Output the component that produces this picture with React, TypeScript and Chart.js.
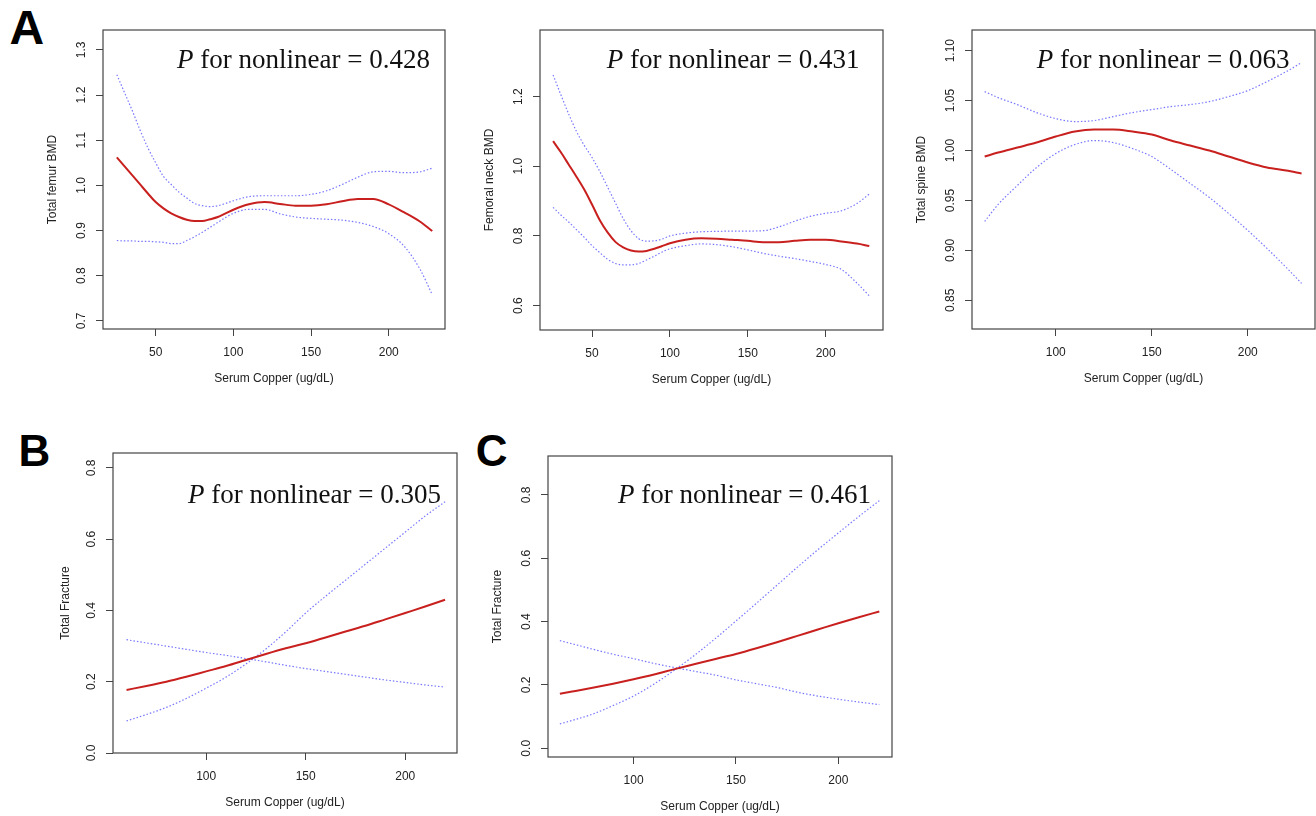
import React, { useEffect, useRef } from 'react';
import { Chart, registerables } from 'chart.js';

Chart.register(...registerables);

// ---------- Data ----------
const femurX = [25, 30, 35, 40, 45, 50, 55, 60, 65, 70, 75, 80, 85, 90, 95, 100, 110, 120, 130, 140, 150, 160, 170, 180, 190, 200, 210, 220, 228];
const femurFit = [1.062, 1.042, 1.022, 1.002, 0.982, 0.963, 0.949, 0.938, 0.930, 0.924, 0.921, 0.921, 0.925, 0.930, 0.938, 0.946, 0.958, 0.963, 0.959, 0.955, 0.955, 0.958, 0.965, 0.970, 0.970, 0.958, 0.940, 0.920, 0.899];
const femurUpper = [1.245, 1.205, 1.165, 1.122, 1.083, 1.050, 1.020, 1.002, 0.985, 0.972, 0.960, 0.955, 0.953, 0.955, 0.960, 0.966, 0.975, 0.977, 0.977, 0.977, 0.980, 0.988, 1.002, 1.018, 1.030, 1.031, 1.028, 1.030, 1.038];
const femurLower = [0.878, 0.877, 0.877, 0.876, 0.876, 0.875, 0.874, 0.871, 0.871, 0.878, 0.886, 0.896, 0.907, 0.918, 0.929, 0.938, 0.947, 0.947, 0.937, 0.930, 0.927, 0.925, 0.923, 0.918, 0.909, 0.893, 0.865, 0.815, 0.758];

const neckX = [25, 30, 35, 40, 45, 50, 55, 60, 65, 70, 75, 80, 85, 90, 95, 100, 110, 120, 130, 140, 150, 160, 170, 180, 190, 200, 210, 220, 228];
const neckFit = [1.072, 1.040, 1.005, 0.970, 0.933, 0.890, 0.845, 0.810, 0.783, 0.767, 0.758, 0.755, 0.757, 0.763, 0.771, 0.779, 0.789, 0.793, 0.792, 0.789, 0.786, 0.782, 0.782, 0.786, 0.789, 0.789, 0.784, 0.778, 0.771];
const neckUpper = [1.262, 1.205, 1.150, 1.100, 1.060, 1.025, 0.985, 0.940, 0.895, 0.850, 0.815, 0.792, 0.785, 0.786, 0.791, 0.800, 0.808, 0.812, 0.813, 0.814, 0.814, 0.815, 0.826, 0.842, 0.856, 0.865, 0.872, 0.893, 0.920];
const neckLower = [0.882, 0.860, 0.840, 0.818, 0.796, 0.772, 0.752, 0.733, 0.721, 0.717, 0.717, 0.721, 0.731, 0.742, 0.754, 0.763, 0.772, 0.777, 0.775, 0.769, 0.760, 0.750, 0.742, 0.735, 0.727, 0.718, 0.704, 0.665, 0.628];

const spineX = [63, 70, 80, 90, 100, 110, 120, 130, 140, 150, 160, 170, 180, 190, 200, 210, 220, 228];
const spineFit = [0.994, 0.998, 1.003, 1.008, 1.014, 1.019, 1.021, 1.021, 1.019, 1.016, 1.010, 1.005, 1.000, 0.994, 0.988, 0.983, 0.980, 0.977];
const spineUpper = [1.059, 1.053, 1.046, 1.038, 1.032, 1.029, 1.030, 1.034, 1.038, 1.041, 1.044, 1.046, 1.049, 1.054, 1.060, 1.069, 1.079, 1.088];
const spineLower = [0.929, 0.946, 0.965, 0.983, 0.997, 1.006, 1.010, 1.008, 1.002, 0.994, 0.981, 0.967, 0.953, 0.937, 0.920, 0.902, 0.883, 0.867];

const fracBX = [60, 70, 80, 90, 100, 110, 120, 130, 140, 150, 160, 170, 180, 190, 200, 210, 220];
const fracBFit = [0.177, 0.188, 0.200, 0.214, 0.229, 0.244, 0.261, 0.278, 0.294, 0.308, 0.324, 0.341, 0.357, 0.375, 0.393, 0.411, 0.430];
const fracBUpper = [0.090, 0.108, 0.128, 0.153, 0.182, 0.213, 0.250, 0.292, 0.340, 0.393, 0.440, 0.485, 0.530, 0.575, 0.620, 0.665, 0.705];
const fracBLower = [0.318, 0.309, 0.300, 0.291, 0.282, 0.274, 0.265, 0.256, 0.246, 0.237, 0.229, 0.221, 0.213, 0.205, 0.198, 0.191, 0.185];

const fracCX = [64, 70, 80, 90, 100, 110, 120, 130, 140, 150, 160, 170, 180, 190, 200, 210, 220];
const fracCFit = [0.172, 0.179, 0.191, 0.204, 0.218, 0.233, 0.250, 0.266, 0.282, 0.298, 0.316, 0.335, 0.355, 0.375, 0.395, 0.414, 0.432];
const fracCUpper = [0.077, 0.088, 0.108, 0.135, 0.165, 0.203, 0.247, 0.295, 0.347, 0.402, 0.458, 0.515, 0.572, 0.627, 0.680, 0.732, 0.782];
const fracCLower = [0.340, 0.330, 0.313, 0.297, 0.283, 0.268, 0.255, 0.243, 0.231, 0.216, 0.204, 0.192, 0.177, 0.165, 0.155, 0.146, 0.138];

const yTitles = ['Total femur BMD', 'Femoral neck BMD', 'Total spine BMD', 'Total Fracture', 'Total Fracture'];
const pValues = ['0.428', '0.431', '0.063', '0.305', '0.461'];
const xTitle = 'Serum Copper (ug/dL)';
const panelLetters = ['A', 'B', 'C'];

// ---------- Styling ----------
const FONT_FAMILY = '"Liberation Sans", Arial, Helvetica, sans-serif';
const SERIF = '"Liberation Serif", "Times New Roman", serif';
const RED = '#C8201E';
const BLUE = 'rgba(105,105,255,0.9)';
const AXIS = '#444';
const TEXT = '#222';

type Spec = {
  box: [number, number, number, number];
  xs: number[]; fit: number[]; upper: number[]; lower: number[];
  xMin: number; xMax: number;
  yMin: number; yMax: number; yStep: number; dec: number;
  yTitle: string; pValue: string;
  pdx: number; pdy: number; yTitleOff: number; padR: number;
};

const specs: Spec[] = [
  { box: [103, 30, 445, 329], xs: femurX, fit: femurFit, upper: femurUpper, lower: femurLower, xMin: 16.1, xMax: 236.2, yMin: 0.682, yMax: 1.344, yStep: 0.1, dec: 1, yTitle: yTitles[0], pValue: pValues[0], pdx: 74, pdy: 38.3, yTitleOff: 50, padR: 5 },
  { box: [540, 30, 883, 330], xs: neckX, fit: neckFit, upper: neckUpper, lower: neckLower, xMin: 16.6, xMax: 236.8, yMin: 0.530, yMax: 1.391, yStep: 0.2, dec: 1, yTitle: yTitles[1], pValue: pValues[1], pdx: 66.7, pdy: 38.3, yTitleOff: 50, padR: 5 },
  { box: [972, 30, 1315, 329], xs: spineX, fit: spineFit, upper: spineUpper, lower: spineLower, xMin: 56.4, xMax: 235, yMin: 0.8213, yMax: 1.1207, yStep: 0.05, dec: 2, yTitle: yTitles[2], pValue: pValues[2], pdx: 64.7, pdy: 38.3, yTitleOff: 50, padR: 1 },
  { box: [113, 453, 457, 753], xs: fracBX, fit: fracBFit, upper: fracBUpper, lower: fracBLower, xMin: 53.2, xMax: 226, yMin: 0, yMax: 0.842, yStep: 0.2, dec: 1, yTitle: yTitles[3], pValue: pValues[3], pdx: 75, pdy: 50.3, yTitleOff: 47, padR: 5 },
  { box: [548, 456, 892, 757], xs: fracCX, fit: fracCFit, upper: fracCUpper, lower: fracCLower, xMin: 58.2, xMax: 226.2, yMin: -0.0275, yMax: 0.923, yStep: 0.2, dec: 1, yTitle: yTitles[4], pValue: pValues[4], pdx: 70, pdy: 47.3, yTitleOff: 50, padR: 5 },
];

const Y_AXIS_W = 60;
const X_AXIS_H = 58;
const PAD_TOP = 15;

const framePlugin = {
  id: 'frame',
  afterDatasetsDraw(chart: any) {
    const { ctx, chartArea: a } = chart;
    ctx.save();
    ctx.strokeStyle = AXIS;
    ctx.lineWidth = 1.2;
    ctx.strokeRect(a.left, a.top, a.right - a.left, a.bottom - a.top);
    ctx.restore();
  },
};

const pTextPlugin = {
  id: 'ptext',
  afterDraw(chart: any, _args: any, opts: any) {
    const { ctx, chartArea: a } = chart;
    const x = a.left + opts.dx;
    const y = a.top + opts.dy;
    ctx.save();
    ctx.fillStyle = '#111';
    ctx.textBaseline = 'alphabetic';
    ctx.textAlign = 'left';
    ctx.font = `italic 27px ${SERIF}`;
    ctx.fillText('P', x, y);
    const w = ctx.measureText('P').width;
    ctx.font = `27px ${SERIF}`;
    ctx.fillText(' for nonlinear = ' + opts.value, x + w, y);
    ctx.restore();
  },
};

function Panel({ spec }: { spec: Spec }) {
  const ref = useRef<HTMLCanvasElement>(null);
  const [L, T, R, B] = spec.box;
  const left = L - Y_AXIS_W;
  const top = T - PAD_TOP;
  const width = R - L + Y_AXIS_W + spec.padR;
  const height = B - T + PAD_TOP + X_AXIS_H;

  useEffect(() => {
    const canvas = ref.current!;
    const ctx = canvas.getContext('2d')!;
    ctx.font = `12px ${FONT_FAMILY}`;
    let widest = 0;
    const first = Math.ceil(spec.yMin / spec.yStep - 1e-9);
    const last = Math.floor(spec.yMax / spec.yStep + 1e-9);
    for (let k = first; k <= last; k++) {
      widest = Math.max(widest, ctx.measureText((k * spec.yStep).toFixed(spec.dec)).width);
    }
    const yPad = 14 - widest / 2;
    const font = { family: FONT_FAMILY, size: 12 };

    const chart = new Chart(canvas, {
      type: 'line',
      data: {
        datasets: [
          { data: spec.xs.map((x, i) => ({ x, y: spec.fit[i] })), borderColor: RED, borderWidth: 2, pointRadius: 0, cubicInterpolationMode: 'monotone', fill: false },
          { data: spec.xs.map((x, i) => ({ x, y: spec.upper[i] })), borderColor: BLUE, borderWidth: 1.2, borderDash: [1.5, 2], pointRadius: 0, cubicInterpolationMode: 'monotone', fill: false },
          { data: spec.xs.map((x, i) => ({ x, y: spec.lower[i] })), borderColor: BLUE, borderWidth: 1.2, borderDash: [1.5, 2], pointRadius: 0, cubicInterpolationMode: 'monotone', fill: false },
        ],
      },
      options: {
        animation: false,
        responsive: false,
        events: [],
        layout: { padding: { left: 0, top: PAD_TOP, right: spec.padR, bottom: 0 } },
        plugins: {
          legend: { display: false },
          tooltip: { enabled: false },
          ptext: { dx: spec.pdx, dy: spec.pdy, value: spec.pValue },
        } as any,
        scales: {
          x: {
            type: 'linear',
            min: spec.xMin,
            max: spec.xMax,
            afterFit: (s: any) => { s.height = X_AXIS_H; },
            border: { display: false },
            grid: { display: true, drawOnChartArea: false, drawTicks: true, tickLength: 7, color: AXIS, lineWidth: 1 },
            ticks: { stepSize: 50, includeBounds: false, padding: 9, autoSkip: false, maxRotation: 0, minRotation: 0, font, color: TEXT, callback: (v: any) => String(v) },
            title: { display: true, text: xTitle, font, color: TEXT, padding: { top: 0, bottom: 1 } },
          },
          y: {
            type: 'linear',
            min: spec.yMin,
            max: spec.yMax,
            afterFit: (s: any) => { s.width = Y_AXIS_W; },
            border: { display: false },
            grid: { display: true, drawOnChartArea: false, drawTicks: true, tickLength: 7, color: AXIS, lineWidth: 1 },
            ticks: { stepSize: spec.yStep, includeBounds: false, autoSkip: false, minRotation: 90, maxRotation: 90, crossAlign: 'center', padding: yPad, font, color: TEXT, callback: (v: any) => Number(v).toFixed(spec.dec) },
            title: { display: true, text: spec.yTitle, font, color: TEXT, padding: { top: Y_AXIS_W - spec.yTitleOff - 7.2, bottom: 0 } },
          },
        },
      } as any,
      plugins: [framePlugin, pTextPlugin],
    });
    return () => chart.destroy();
  }, []);

  return (
    <canvas
      ref={ref}
      width={width}
      height={height}
      style={{ position: 'absolute', left, top, width, height }}
    />
  );
}

const letterStyle = (left: number, top: number, size: number): React.CSSProperties => ({
  position: 'absolute', left, top, fontFamily: FONT_FAMILY, fontWeight: 'bold', fontSize: size, lineHeight: `${size}px`, color: '#000',
});

export default function App() {
  useEffect(() => {
    document.body.style.overflow = 'hidden';
  }, []);
  return (
    <div>
      <div style={letterStyle(9.5, 4.4, 48)}>{panelLetters[0]}</div>
      <div style={letterStyle(18.5, 429.4, 44)}>{panelLetters[1]}</div>
      <div style={letterStyle(475.8, 428.7, 44)}>{panelLetters[2]}</div>
      {specs.map((s, i) => <Panel key={i} spec={s} />)}
    </div>
  );
}
